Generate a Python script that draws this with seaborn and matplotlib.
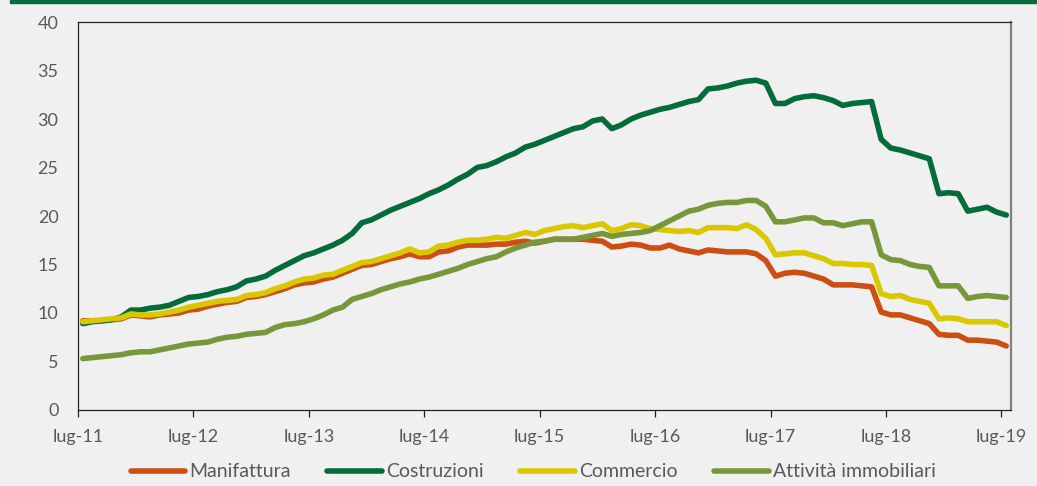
import pandas as pd
import numpy as np
import matplotlib as mpl
from matplotlib import pyplot as plt
import seaborn as sns


# monthly values, jul 2011 -> jul 2019
manifattura = [9.2, 9.2, 9.2, 9.3, 9.4, 9.8, 9.7, 9.6, 9.8, 9.9,
               10.0, 10.3, 10.4, 10.7, 10.9, 11.1, 11.2, 11.6, 11.7, 11.9,
               12.2, 12.5, 12.9, 13.1, 13.2, 13.5, 13.7, 14.1, 14.5, 14.9,
               15.0, 15.3, 15.6, 15.8, 16.1, 15.8, 15.8, 16.3, 16.4, 16.8,
               17.0, 17.0, 17.0, 17.1, 17.1, 17.3, 17.4, 17.2, 17.4, 17.6,
               17.6, 17.6, 17.6, 17.5, 17.4, 16.8, 16.9, 17.1, 17.0, 16.7,
               16.7, 17.0, 16.6, 16.4, 16.2, 16.5, 16.4, 16.3, 16.3, 16.3,
               16.1, 15.4, 13.8, 14.1, 14.2, 14.1, 13.8, 13.5, 12.9, 12.9,
               12.9, 12.8, 12.7, 10.1, 9.8, 9.8, 9.5, 9.2, 8.9, 7.8,
               7.7, 7.7, 7.2, 7.2, 7.1, 7.0, 6.6]
costruzioni = [8.9, 9.1, 9.2, 9.3, 9.6, 10.3, 10.3, 10.5, 10.6, 10.8,
               11.2, 11.6, 11.7, 11.9, 12.2, 12.4, 12.7, 13.3, 13.5, 13.8,
               14.4, 14.9, 15.4, 15.9, 16.2, 16.6, 17.0, 17.5, 18.2, 19.3,
               19.6, 20.1, 20.6, 21.0, 21.4, 21.8, 22.3, 22.7, 23.2, 23.8,
               24.3, 25.0, 25.2, 25.6, 26.1, 26.5, 27.1, 27.4, 27.8, 28.2,
               28.6, 29.0, 29.2, 29.8, 30.0, 29.0, 29.4, 30.0, 30.4, 30.7,
               31.0, 31.2, 31.5, 31.8, 32.0, 33.1, 33.2, 33.4, 33.7, 33.9,
               34.0, 33.7, 31.6, 31.6, 32.1, 32.3, 32.4, 32.2, 31.9, 31.4,
               31.6, 31.7, 31.8, 27.9, 27.0, 26.8, 26.5, 26.2, 25.9, 22.3,
               22.4, 22.3, 20.5, 20.7, 20.9, 20.4, 20.1]
commercio = [9.1, 9.2, 9.3, 9.4, 9.5, 9.9, 9.8, 9.8, 9.9, 10.1,
             10.3, 10.6, 10.8, 11.0, 11.2, 11.3, 11.4, 11.8, 11.9, 12.1,
             12.5, 12.8, 13.2, 13.5, 13.6, 13.9, 14.0, 14.4, 14.8, 15.2,
             15.3, 15.6, 15.9, 16.2, 16.6, 16.2, 16.3, 16.9, 17.0, 17.3,
             17.5, 17.5, 17.6, 17.8, 17.7, 18.0, 18.3, 18.1, 18.5, 18.7,
             18.9, 19.0, 18.8, 19.0, 19.2, 18.5, 18.7, 19.1, 19.0, 18.7,
             18.6, 18.5, 18.4, 18.5, 18.3, 18.8, 18.8, 18.8, 18.7, 19.1,
             18.6, 17.7, 16.0, 16.1, 16.2, 16.2, 15.9, 15.6, 15.1, 15.1,
             15.0, 15.0, 14.9, 12.0, 11.7, 11.8, 11.4, 11.2, 11.0, 9.4,
             9.5, 9.4, 9.1, 9.1, 9.1, 9.1, 8.7]
immobiliari = [5.3, 5.4, 5.5, 5.6, 5.7, 5.9, 6.0, 6.0, 6.2, 6.4,
               6.6, 6.8, 6.9, 7.0, 7.3, 7.5, 7.6, 7.8, 7.9, 8.0,
               8.5, 8.8, 8.9, 9.1, 9.4, 9.8, 10.3, 10.6, 11.4, 11.7,
               12.0, 12.4, 12.7, 13.0, 13.2, 13.5, 13.7, 14.0, 14.3, 14.6,
               15.0, 15.3, 15.6, 15.8, 16.3, 16.7, 17.0, 17.3, 17.4, 17.6,
               17.6, 17.6, 17.8, 18.0, 18.2, 17.9, 18.1, 18.2, 18.3, 18.5,
               19.0, 19.5, 20.0, 20.5, 20.7, 21.1, 21.3, 21.4, 21.4, 21.6,
               21.6, 21.0, 19.4, 19.4, 19.6, 19.8, 19.8, 19.3, 19.3, 19.0,
               19.2, 19.4, 19.4, 16.0, 15.5, 15.4, 15.0, 14.8, 14.7, 12.8,
               12.8, 12.8, 11.5, 11.7, 11.8, 11.7, 11.6]

series_names = ['Manifattura', 'Costruzioni', 'Commercio', 'Attività immobiliari']
tick_labels = ['lug-11', 'lug-12', 'lug-13', 'lug-14', 'lug-15',
               'lug-16', 'lug-17', 'lug-18', 'lug-19']
colors = ['#CC4E12', '#046B3A', '#D9C800', '#77973B']

months = np.arange(len(manifattura))
data = pd.DataFrame({
    'mese': np.tile(months, 4),
    'valore': manifattura + costruzioni + commercio + immobiliari,
    'settore': np.repeat(series_names, len(months)),
})

sns.set_style('white')
plt.rcParams['font.family'] = ['Lato', 'DejaVu Sans']
bg = '#F0F0F0'

fig = plt.figure(figsize=(10.37, 4.86), dpi=100, facecolor=bg)
ax = fig.add_axes([0.0752, 0.1564, 0.8998, 0.7983])
ax.set_facecolor(bg)

sns.lineplot(x='mese', y='valore', hue='settore', data=data, palette=colors,
             hue_order=series_names, lw=4.0, ax=ax, legend=True)
for ln in ax.lines:
    ln.set_solid_capstyle('round')
    ln.set_solid_joinstyle('round')

ax.set_xlim(-0.5, len(months) - 0.5)
ax.set_ylim(0, 40)
ax.set_yticks(range(0, 41, 5))
ax.set_xticks(np.arange(-0.5, len(months), 12))
ax.set_xticklabels(tick_labels)
ax.set_xlabel('')
ax.set_ylabel('')

for s in ['left', 'bottom', 'top']:
    ax.spines[s].set_color('#222222')
    ax.spines[s].set_linewidth(0.9)
ax.spines['right'].set_color('#808080')
ax.spines['right'].set_linewidth(1.6)

ax.tick_params(axis='y', length=0, pad=14, labelsize=13, labelcolor='#595959')
ax.tick_params(axis='x', direction='out', length=5, width=0.9, color='#222222',
               pad=9, labelsize=13, labelcolor='#595959', bottom=True)

handles, labels = ax.get_legend_handles_labels()
ax.legend(handles, labels, loc='center', bbox_to_anchor=(0.514, 0.029),
          bbox_transform=fig.transFigure, ncol=4, frameon=False,
          fontsize=14, labelcolor='#595959', handlelength=2.8,
          handletextpad=0.2, columnspacing=1.9, borderaxespad=0)

# green band on top
fig.patches.append(mpl.patches.Rectangle((0.0096, 0.994), 1.0, 0.006,
                                         transform=fig.transFigure,
                                         color='#0A6B42', zorder=0))

fig.savefig('out.png', dpi=100, facecolor=bg)
